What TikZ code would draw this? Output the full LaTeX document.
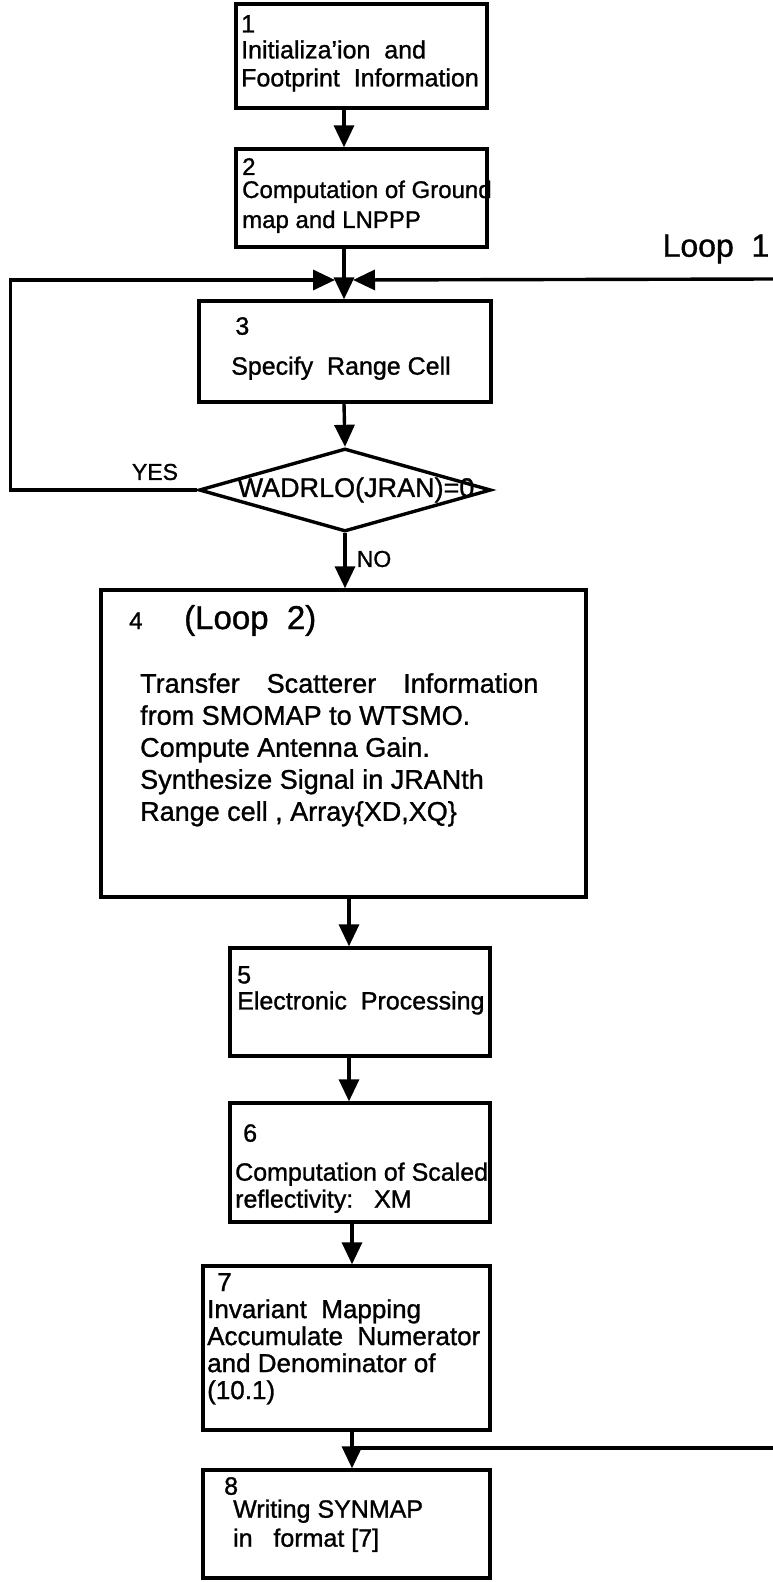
\documentclass[tikz,border=0pt]{standalone}
\usepackage{fontspec}
\setmainfont{Liberation Sans}[FakeBold=1.1]
\usetikzlibrary{positioning,arrows.meta,shapes.geometric}
\newcommand{\fsz}[2]{\fontsize{#1}{#2}\selectfont}

\begin{document}
\begin{tikzpicture}[x=1pt,y=-1pt,
    flowbox/.style={draw,line width=3.4pt,inner sep=0pt},
    decide/.style={draw,diamond,line width=3.4pt,inner sep=0pt},
    boxtext/.style={anchor=north west,align=left,inner sep=0pt,font=\fsz{25}{28}},
    flowarrow/.style={line width=3.4pt,-{Triangle[width=20pt,length=22pt]}},
    flowline/.style={line width=3.4pt}]
    \useasboundingbox (0,0) rectangle (773,1582);

    % boxes of the chart
    \node[flowbox,minimum width=251pt,minimum height=104pt] (b1) at (361.5,56) {};
    \node[flowbox,minimum width=251pt,minimum height=98pt] (b2) at (361.5,198) {};
    \node[flowbox,minimum width=292pt,minimum height=101pt] (b3) at (345,351.5) {};
    \node[decide,minimum width=292pt,minimum height=83pt] (dec) at (345,490) {};
    \node[flowbox,minimum width=485pt,minimum height=307pt] (b4) at (343.5,743.5) {};
    \node[flowbox,minimum width=260pt,minimum height=108pt] (b5) at (360,1002) {};
    \node[flowbox,minimum width=260pt,minimum height=119pt] (b6) at (360,1162.5) {};
    \node[flowbox,minimum width=287pt,minimum height=164pt] (b7) at (346.5,1348) {};
    \node[flowbox,minimum width=287pt,minimum height=108pt] (b8) at (346.5,1524) {};

    % texts
    \node[boxtext] (t1) at (241,15) {1\\[-2pt]Initializa'ion~~and\\Footprint~~Information};
    \node[boxtext,font=\fsz{24}{28}] (t2) at (242,158) {2\\[-5pt]Computation of Ground\\[2pt]map and LNPPP};
    \node[boxtext] (t3) at (231,317) {\,3\\[12pt]Specify~~Range Cell};
    \node[font=\fsz{27}{30},inner sep=0pt] (dtext) at (356,490) {WADRLO(JRAN)=0};
    \node[font=\fsz{23}{26},inner sep=0pt] (yes) at (155,472) {YES};
    \node[font=\fsz{23}{26},inner sep=0pt] (no) at (374,559) {NO};
    \node[font=\fsz{32}{36},inner sep=0pt] (loopa) at (716,249) {Loop~~1};
    \node[anchor=base west,inner sep=0pt,font=\fsz{24}{28}] (t4n) at (129,629) {4};
    \node[anchor=base west,inner sep=0pt,font=\fsz{33}{36}] (t4l) at (184,629) {(Loop~~2)};
    \node[boxtext,font=\fsz{27}{32}] (t4) at (140,673) {Transfer\quad Scatterer\quad Information\\from SMOMAP to WTSMO.\\Compute Antenna Gain.\\Synthesize Signal in JRANth\\Range cell , Array\{XD,XQ\}};
    \node[boxtext,font=\fsz{25}{26}] (t5) at (237,966) {5\\Electronic~~Processing};
    \node[boxtext,font=\fsz{25}{27}] (t6) at (235,1124) {\hspace*{8pt}6\\[12pt]Computation of Scaled\\reflectivity:~~~XM};
    \node[boxtext,font=\fsz{26}{27}] (t7) at (207,1273) {\hspace*{10pt}7\\Invariant~~Mapping\\Accumulate~~Numerator\\and Denominator of\\(10.1)};
    \node[boxtext,font=\fsz{25}{27}] (t8) at (224,1477) {8\\[-4pt]\hspace*{9pt}Writing SYNMAP\\[2pt]\hspace*{9pt}in~~~format [7]};

    % connectors
    \coordinate (m1) at (344,280);
    \coordinate (colb) at (349,0);
    \coordinate (j2) at (352,1448);
    \coordinate (l1) at (773,279);
    \coordinate (l2) at (773,1448);
    \draw[flowarrow] (b1.south -| m1) -- (b2.north -| m1);
    \draw[flowarrow] (b2.south -| m1) -- (b3.north -| m1);
    \draw[flowarrow] (b3.south -| m1) -- (dec.north);
    \draw[flowarrow] (dec.west) -- ++(-187,0) |- ([xshift=-9pt]m1);
    \draw[flowarrow] (l1) -- ([xshift=9pt]m1);
    \draw[flowarrow] (dec.south) -- (b4.north -| dec.south);
    \draw[flowarrow] (b4.south -| colb) -- (b5.north -| colb);
    \draw[flowarrow] (b5.south -| colb) -- (b6.north -| colb);
    \draw[flowarrow] (b6.south -| j2) -- (b7.north -| j2);
    \draw[flowarrow] (b7.south -| j2) -- (b8.north -| j2);
    \draw[flowline] (l2) -- (j2);
\end{tikzpicture}
\end{document}
